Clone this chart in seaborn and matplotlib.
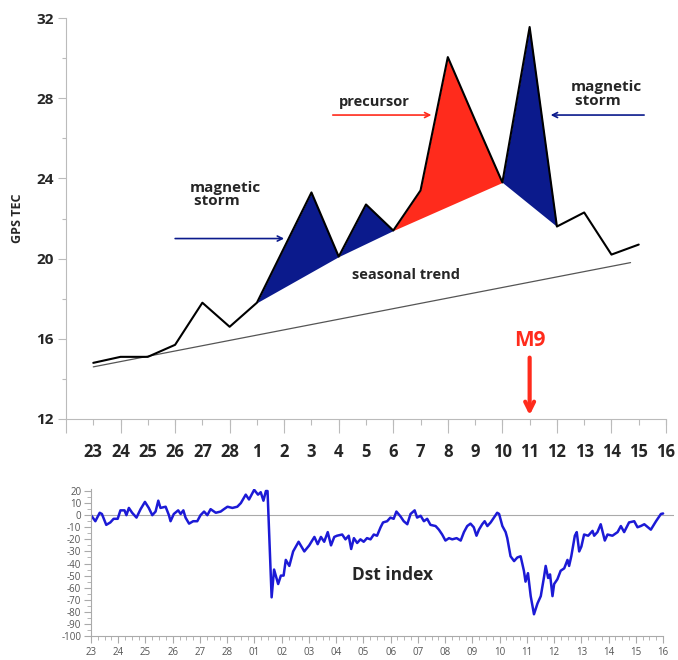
import numpy as np
import seaborn as sns
import matplotlib.pyplot as plt

# GPS TEC, one value per day (23 Feb .. 15 Mar), index 0 = 23 Feb
tec_day = list(range(21))
tec = [14.8, 15.1, 15.1, 15.7, 17.8, 16.6, 17.8, 20.55, 23.3, 20.1, 22.7, 21.4,
       23.4, 30.05, 26.9, 23.8, 31.55, 21.6, 22.3, 20.2, 20.7]
trend_x = [0, 19.7]
trend_y = [14.6, 19.8]

# shaded anomalies (start day, end day)
storm1 = (6, 9)
storm2 = (9, 11)
precursor = (11, 15)
storm3 = (15, 17)

top_labels = ["23", "24", "25", "26", "27", "28", "1", "2", "3", "4", "5", "6",
              "7", "8", "9", "10", "11", "12", "13", "14", "15", "16"]
dst_labels = ["23", "24", "25", "26", "27", "28", "01", "02", "03", "04", "05", "06",
              "07", "08", "09", "10", "11", "12", "13", "14", "15", "16"]

# Dst index (time in days from 23 Feb 00UT)
dst_t = [0, 0.16, 0.32, 0.40, 0.56, 0.71, 0.83, 0.98, 1.08, 1.23, 1.30, 1.39, 1.51, 1.67,
         1.82, 1.98, 2.12, 2.25, 2.37, 2.47, 2.55, 2.74, 2.86, 2.92, 3.04, 3.20, 3.29, 3.39,
         3.47, 3.60, 3.75, 3.90, 4.02, 4.15, 4.27, 4.39, 4.58, 4.76, 4.88, 5.01, 5.19, 5.37,
         5.50, 5.68, 5.80, 5.99, 6.13, 6.23, 6.33, 6.42, 6.48, 6.63, 6.72, 6.87, 6.97, 7.07,
         7.15, 7.28, 7.42, 7.62, 7.83, 8.01, 8.20, 8.32, 8.44, 8.56, 8.69, 8.81, 8.93, 9.03,
         9.22, 9.34, 9.46, 9.55, 9.65, 9.77, 9.89, 10.01, 10.13, 10.26, 10.38, 10.50, 10.63,
         10.72, 10.87, 10.99, 11.11, 11.21, 11.36, 11.48, 11.61, 11.73, 11.88, 11.97, 12.10,
         12.22, 12.34, 12.46, 12.65, 12.77, 12.89, 13.01, 13.14, 13.26, 13.42, 13.57, 13.69,
         13.81, 13.93, 14.05, 14.15, 14.24, 14.36, 14.45, 14.55, 14.67, 14.79, 14.91, 14.98,
         15.10, 15.22, 15.28, 15.40, 15.53, 15.65, 15.77, 15.89, 15.95, 16.04, 16.14, 16.26,
         16.39, 16.51, 16.63, 16.69, 16.78, 16.85, 16.94, 17.00, 17.12, 17.24, 17.37, 17.49,
         17.55, 17.63, 17.76, 17.83, 17.92, 18.00, 18.10, 18.25, 18.41, 18.47, 18.59, 18.71,
         18.86, 18.96, 19.14, 19.33, 19.45, 19.57, 19.75, 19.94, 20.06, 20.18, 20.31, 20.55,
         20.74, 20.92, 21.0]
dst = [0, -5, 2, 1, -8, -6, -3, -3, 4, 4, 0, 6, 2, -2,
       5, 11, 6, 0, 3, 12, 6, 7, 0, -5, 1, 4, 1, 4,
       -2, -7, -5, -5, 0, 3, 0, 5, 2, 3, 5, 7, 6, 7,
       10, 17, 13, 21, 17, 19, 12, 20, 20, -68, -45, -57, -50, -50,
       -37, -42, -30, -22, -30, -25, -18, -24, -18, -22, -14, -25, -18, -17,
       -16, -20, -17, -28, -19, -23, -20, -22, -19, -20, -16, -17, -10,
       -6, -5, -2, -3, 3, -1, -5, -7.5, 1, 4, -2, -0.5,
       -5, -3, -8, -9, -12, -16, -21, -19, -20, -19, -21, -14,
       -9, -7, -10, -17, -12, -7.5, -5, -9, -6, -2, 2, 1,
       -9, -14, -19, -34, -38, -35, -34, -46, -55, -48, -67, -82,
       -73, -67, -51, -42, -52, -49, -67, -57, -53, -46, -44, -37,
       -42, -34, -17, -14, -30, -26, -16, -17, -13, -17, -14, -7.5,
       -21, -16, -17, -14, -9, -14, -6, -5, -10, -9, -7.5, -12,
       -5, 1, 1.4]

navy = "#0b1a8c"
red = "#ff2b1c"

sns.set_theme(style="white")
plt.rcParams['font.family'] = ['Open Sans', 'DejaVu Sans']

fig = plt.figure(figsize=(6.78, 6.60), dpi=100)
ax = fig.add_axes([66 / 678, 241 / 660, 600 / 678, 401 / 660])
ax2 = fig.add_axes([91 / 678, 24 / 660, 583 / 678, 147.4 / 660])

# ---- top panel: GPS TEC ----
tec_arr = np.array(tec)
days = np.array(tec_day)
for (a, b), col in [(storm1, navy), (storm2, navy), (precursor, red), (storm3, navy)]:
    xs = days[a:b + 1]
    chord = np.interp(xs, [a, b], [tec[a], tec[b]])
    ax.fill_between(xs, chord, tec_arr[a:b + 1], color=col, lw=0)

sns.lineplot(x=trend_x, y=trend_y, ax=ax, color="#555555", lw=0.9)
sns.lineplot(x=tec_day, y=tec, ax=ax, color="black", lw=1.5)

ax.set_xlim(-1, 21)
ax.set_ylim(12, 32)
ax.set_xticks(range(22))
ax.set_xticklabels(top_labels, fontsize=12, fontweight="bold")
ax.set_xticks(range(-1, 22, 2), minor=True)
ax.xaxis.remove_overlapping_locs = False
ax.set_yticks([12, 16, 20, 24, 28, 32])
ax.set_yticklabels(["12", "16", "20", "24", "28", "32"], fontsize=11, fontweight="bold")
ax.set_yticks(range(14, 32, 4), minor=True)
ax.tick_params(axis="x", which="major", length=4, width=0.8, color="#bbbbbb", pad=13, bottom=True)
ax.tick_params(axis="x", which="minor", length=10, width=0.8, color="#bbbbbb", bottom=True)
ax.tick_params(axis="y", which="major", length=6, width=0.8, color="#bbbbbb", pad=3, left=True)
ax.tick_params(axis="y", which="minor", length=3, width=0.8, color="#bbbbbb", left=True)
for s in ["top", "right"]:
    ax.spines[s].set_visible(False)
for s in ["left", "bottom"]:
    ax.spines[s].set_color("#bbbbbb")
    ax.spines[s].set_linewidth(0.8)
ax.set_ylabel("GPS TEC", fontsize=9, fontweight="bold")
ax.yaxis.set_label_coords(-0.07, 0.5)

ax.text(3.55, 23.2, "magnetic\n storm", fontsize=11, fontweight="bold", va="center",
        linespacing=0.95)
ax.annotate("", xy=(7.1, 21.0), xytext=(2.9, 21.0),
            arrowprops=dict(arrowstyle="->", color=navy, lw=1.2, mutation_scale=9))
ax.text(9.0, 27.8, "precursor", fontsize=10.5, fontweight="bold", va="center")
ax.annotate("", xy=(12.5, 27.16), xytext=(8.68, 27.16),
            arrowprops=dict(arrowstyle="->", color=red, lw=1.2, mutation_scale=9))
ax.text(17.5, 28.2, "magnetic\n storm", fontsize=11, fontweight="bold", va="center",
        linespacing=0.95)
ax.annotate("", xy=(16.67, 27.16), xytext=(20.3, 27.16),
            arrowprops=dict(arrowstyle="->", color=navy, lw=1.2, mutation_scale=9))
ax.text(9.5, 19.2, "seasonal trend", fontsize=10.5, fontweight="bold", va="center")
ax.text(16.0, 15.9, "M9", fontsize=15, fontweight="bold", color=red, ha="center", va="center")
ax.annotate("", xy=(16.0, 12.05), xytext=(16.0, 15.2),
            arrowprops=dict(arrowstyle="->", color=red, lw=3, mutation_scale=16))

# ---- bottom panel: Dst index ----
sns.lineplot(x=dst_t, y=dst, ax=ax2, color="#1c1ad6", lw=1.8)
ax2.axhline(0, color="#aaaaaa", lw=0.8, zorder=0)
ax2.set_xlim(0, 21.4)
ax2.set_ylim(-100, 22)
ax2.set_xticks(range(22))
ax2.set_xticklabels(dst_labels, fontsize=7, color="#555555")
ax2.set_xticks(np.arange(0, 21.01, 0.25), minor=True)
ax2.set_yticks(range(-100, 21, 10))
ax2.set_yticklabels([str(v) for v in range(-100, 21, 10)], fontsize=7, color="#555555")
ax2.set_yticks(range(-95, 20, 10), minor=True)
ax2.tick_params(axis="x", which="major", length=5, width=0.8, color="#aaaaaa", pad=3, bottom=True)
ax2.tick_params(axis="x", which="minor", length=3, width=0.6, color="#aaaaaa", bottom=True)
ax2.tick_params(axis="y", which="major", length=5, width=0.8, color="#aaaaaa", pad=2, left=True)
ax2.tick_params(axis="y", which="minor", length=3, width=0.6, color="#aaaaaa", left=True)
for s in ["top", "right"]:
    ax2.spines[s].set_visible(False)
for s in ["left", "bottom"]:
    ax2.spines[s].set_color("#aaaaaa")
    ax2.spines[s].set_linewidth(0.8)
ax2.spines["bottom"].set_bounds(0, 21)
ax2.text(9.58, -49.7, "Dst index", fontsize=12.5, fontweight="bold", va="center")

fig.savefig("out.png", dpi=100)
